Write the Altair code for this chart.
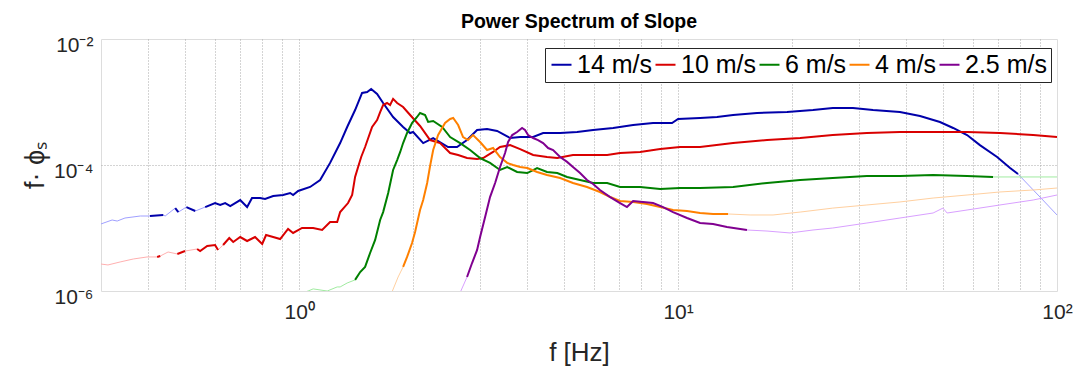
import altair as alt
import pandas as pd

# ---- data ----
series_names = ["14 m/s", "10 m/s", "6 m/s", "4 m/s", "2.5 m/s"]
dark_colors = ["#0000AA", "#D90000", "#008000", "#FF8000", "#800090"]
light_colors = ["#A0A0FF", "#FFB0B0", "#A0EBA0", "#FFD0A0", "#D9A0FF"]
chart_title = "Power Spectrum of Slope"

f_14 = [0.300,0.321,0.331,0.347,0.381,0.404,0.438,0.443,0.471,0.480,0.504,0.532,0.565,0.600,0.619,0.638,0.658,0.699,0.729,0.751,0.789,0.813,0.854,0.907,0.947,0.964,0.994,1.069,1.136,1.207,1.283,1.339,1.405,1.466,1.512,1.549,1.606,1.666,1.770,1.881,1.963,1.999,2.125,2.258,2.472,2.61,2.774,2.949,3.133,3.330,3.604,3.83,4.145,4.404,4.884,5.414,5.968,6.74,7.61,8.59,9.64,10.0,11.43,12.67,13.97,16.16,19.39,22.7,25.6,28.95,32.7,38.5,43.5,49.1,53.2,57.9,62.6,69.5,75.2,78.9,90.2,100]
v_14 = [1.16e-5,1.34e-5,1.29e-5,1.44e-5,1.55e-5,1.55e-5,1.61e-5,1.55e-5,2.07e-5,1.79e-5,2.15e-5,1.86e-5,2.15e-5,2.49e-5,2.32e-5,2.49e-5,2.23e-5,2.78e-5,2.15e-5,2.99e-5,2.99e-5,2.88e-5,3.22e-5,3.34e-5,3.59e-5,3.34e-5,3.87e-5,4.48e-5,5.78e-5,1.08e-4,2.23e-4,4.01e-4,7.46e-4,1.39e-3,1.44e-3,1.61e-3,1.34e-3,9.64e-4,5.78e-4,4.01e-4,3.22e-4,3.34e-4,2.23e-4,2.68e-4,1.93e-4,1.93e-4,2.49e-4,3.59e-4,3.73e-4,3.47e-4,2.68e-4,2.78e-4,2.78e-4,3.22e-4,3.22e-4,3.34e-4,3.59e-4,3.87e-4,4.31e-4,4.64e-4,4.64e-4,5.37e-4,5.57e-4,5.78e-4,6.22e-4,6.69e-4,6.93e-4,7.46e-4,8.03e-4,8.03e-4,7.46e-4,6.93e-4,6.0e-4,4.82e-4,3.87e-4,2.99e-4,2.07e-4,1.34e-4,8.95e-5,7.19e-5,3.10e-5,1.61e-5]
thin_14 = [(0.29, 0.40), (0.44, 0.47), (0.48, 0.50), (0.535, 0.57), (79, 101)]

f_10 = [0.300,0.313,0.337,0.365,0.397,0.422,0.430,0.451,0.477,0.500,0.538,0.548,0.572,0.600,0.611,0.630,0.654,0.670,0.699,0.729,0.765,0.799,0.818,0.854,0.891,0.935,0.964,1.018,1.089,1.150,1.207,1.260,1.283,1.346,1.38,1.405,1.431,1.458,1.493,1.558,1.606,1.636,1.666,1.706,1.738,1.770,1.814,1.881,1.963,2.085,2.216,2.355,2.503,2.628,2.774,2.949,3.059,3.25,3.39,3.604,3.83,4.145,4.51,4.80,5.28,5.86,6.50,7.03,7.94,8.97,10.12,11.43,13.97,17.17,21.0,25.6,31.5,38.5,47.1,57.9,70.7,86.5,100]
v_10 = [2.68e-6,2.59e-6,2.89e-6,3.22e-6,3.47e-6,3.47e-6,3.59e-6,4.16e-6,3.87e-6,4.31e-6,4.64e-6,4.31e-6,5.18e-6,5.37e-6,4.48e-6,5.37e-6,6.93e-6,6.0e-6,7.19e-6,6.22e-6,7.19e-6,5.57e-6,7.74e-6,7.19e-6,6.69e-6,9.64e-6,8.34e-6,1.0e-5,1.0e-5,9.29e-6,1.24e-5,1.24e-5,1.79e-5,2.49e-5,3.34e-5,6.46e-5,9.29e-5,1.34e-4,1.93e-4,4.01e-4,5.18e-4,6.93e-4,8.95e-4,9.64e-4,8.95e-4,1.12e-3,9.64e-4,8.34e-4,6.22e-4,4.16e-4,2.49e-4,2.23e-4,1.55e-4,1.44e-4,1.29e-4,1.24e-4,1.29e-4,1.61e-4,1.93e-4,2.07e-4,1.79e-4,1.44e-4,1.34e-4,1.29e-4,1.44e-4,1.44e-4,1.44e-4,1.55e-4,1.61e-4,1.79e-4,1.93e-4,1.93e-4,2.23e-4,2.49e-4,2.68e-4,2.99e-4,3.22e-4,3.34e-4,3.34e-4,3.34e-4,3.22e-4,2.99e-4,2.78e-4]
thin_10 = [(0.29, 0.42), (0.43, 0.47), (0.49, 0.54), (0.61, 0.64)]

f_6 = [1.0,1.056,1.089,1.186,1.260,1.283,1.339,1.405,1.449,1.493,1.539,1.587,1.636,1.666,1.718,1.770,1.814,1.848,1.881,1.927,1.986,2.047,2.085,2.15,2.19,2.258,2.385,2.503,2.66,2.826,3.003,3.19,3.39,3.54,3.76,4.0,4.246,4.51,4.80,5.095,5.513,5.968,6.50,7.03,7.94,8.97,10.12,11.43,13.97,17.17,21.0,25.6,31.5,38.5,47.1,57.9,67.8,79.9,100]
v_6 = [9.0e-7,1.0e-6,1.08e-6,1.0e-6,1.16e-6,1.16e-6,1.34e-6,1.50e-6,2.0e-6,2.41e-6,4.01e-6,6.46e-6,1.34e-5,1.79e-5,3.59e-5,8.34e-5,1.20e-4,1.61e-4,2.23e-4,3.22e-4,4.64e-4,5.78e-4,6.69e-4,6.22e-4,4.82e-4,4.99e-4,4.01e-4,2.78e-4,2.23e-4,1.73e-4,1.29e-4,1.08e-4,8.34e-5,9.29e-5,7.74e-5,7.46e-5,8.95e-5,7.74e-5,7.46e-5,6.46e-5,5.78e-5,5.18e-5,5.18e-5,4.48e-5,4.48e-5,4.16e-5,4.31e-5,4.31e-5,4.48e-5,5.18e-5,5.78e-5,6.22e-5,6.69e-5,6.69e-5,6.93e-5,6.69e-5,6.46e-5,6.46e-5,6.46e-5]
thin_6 = [(0.9, 1.40), (68, 101)]

f_4 = [1.75,1.825,1.881,1.927,1.986,2.023,2.085,2.125,2.177,2.216,2.258,2.327,2.427,2.503,2.55,2.628,2.708,2.79,2.877,3.003,3.133,3.25,3.39,3.54,3.67,3.83,4.0,4.246,4.51,4.884,5.28,5.75,6.22,6.62,7.03,7.61,8.28,8.97,9.70,10.56,11.43,12.37,13.55,15.49,17.81,21.0,25.6,31.5,38.5,47.1,57.9,70.7,86.5,100]
v_4 = [9.0e-7,1.67e-6,2.41e-6,3.47e-6,5.78e-6,8.65e-6,1.93e-5,2.78e-5,5.18e-5,9.64e-5,1.73e-4,2.99e-4,4.64e-4,5.37e-4,5.57e-4,4.31e-4,2.78e-4,2.49e-4,2.99e-4,2.32e-4,1.73e-4,1.86e-4,1.34e-4,1.08e-4,1.0e-4,9.29e-5,8.95e-5,7.74e-5,6.93e-5,6.22e-5,5.18e-5,4.48e-5,3.73e-5,3.10e-5,2.68e-5,2.59e-5,2.41e-5,2.15e-5,1.93e-5,1.86e-5,1.73e-5,1.67e-5,1.67e-5,1.61e-5,1.61e-5,1.79e-5,2.07e-5,2.32e-5,2.59e-5,2.99e-5,3.34e-5,3.73e-5,4.01e-5,4.31e-5]
thin_4 = [(1.7, 1.88), (13.6, 101)]

f_25 = [2.64,2.774,2.86,2.949,3.003,3.096,3.19,3.29,3.39,3.495,3.56,3.65,3.76,3.875,3.945,4.02,4.145,4.27,4.404,4.54,4.68,4.884,5.095,5.28,5.513,5.75,5.968,6.22,6.62,7.03,7.33,7.61,8.08,8.59,9.13,9.70,10.56,11.43,12.37,13.46,15.2,17.17,19.75,22.7,25.6,31.5,38.5,47.1,50.0,51.3,57.9,70.7,86.5,100]
v_25 = [8.5e-7,1.67e-6,2.78e-6,4.48e-6,7.19e-6,1.50e-5,3.10e-5,5.18e-5,9.29e-5,1.55e-4,2.32e-4,2.99e-4,3.34e-4,3.87e-4,3.59e-4,2.99e-4,2.68e-4,2.49e-4,2.23e-4,1.86e-4,1.73e-4,1.34e-4,1.12e-4,9.29e-5,7.46e-5,5.78e-5,4.99e-5,4.01e-5,3.10e-5,2.49e-5,2.15e-5,2.68e-5,2.59e-5,2.49e-5,2.15e-5,1.79e-5,1.44e-5,1.20e-5,1.16e-5,1.04e-5,9.29e-6,8.95e-6,8.34e-6,9.29e-6,1.0e-5,1.20e-5,1.44e-5,1.73e-5,2.07e-5,1.73e-5,1.93e-5,2.32e-5,2.78e-5,3.34e-5]
thin_25 = [(2.5, 2.77), (15.3, 101)]

x_tick_values = [0.3,0.4,0.5,0.6,0.7,0.8,0.9,1,2,3,4,5,6,7,8,9,10,20,30,40,50,60,70,80,90,100]
y_tick_values = [1e-6, 1e-4, 1e-2]

# ---- build table: split each series into thick / faded runs ----
rows = []
all_series = [
    (series_names[0], f_14, v_14, thin_14, light_colors[0]),
    (series_names[1], f_10, v_10, thin_10, light_colors[1]),
    (series_names[2], f_6, v_6, thin_6, light_colors[2]),
    (series_names[3], f_4, v_4, thin_4, light_colors[3]),
    (series_names[4], f_25, v_25, thin_25, light_colors[4]),
]
for si, (name, fs, vs, thin, light) in enumerate(all_series):
    n = min(len(fs), len(vs))
    styles = []
    for i in range(1, n):
        mid = (fs[i - 1] * fs[i]) ** 0.5
        styles.append("thin" if any(a <= mid <= b for a, b in thin) else "thick")
    runs = []
    cur_style = styles[0]
    cur = [0]
    for i in range(1, n):
        s = styles[i - 1]
        if s != cur_style:
            runs.append((cur_style, cur))
            cur = [i - 1]
            cur_style = s
        cur.append(i)
    runs.append((cur_style, cur))
    for k, (s, idx) in enumerate(runs):
        for order, j in enumerate(idx):
            rows.append(dict(series=name, sidx=si, f=fs[j], v=vs[j], style=s,
                             seg=f"{si}-{k}", order=order, light=light))

df = pd.DataFrame(rows)

FONT = "Liberation Sans"
GRID = "#a8a8a8"

x_grid_opacity = {"condition": {"test": "datum.value <= 0.3 || datum.value >= 100", "value": 0}, "value": 1}
y_grid_opacity = {"condition": {"test": "datum.value <= 1e-6 || datum.value >= 1e-2", "value": 0}, "value": 1}

x_enc = alt.X("f:Q",
    scale=alt.Scale(type="log", domain=[0.3, 100], nice=False),
    axis=alt.Axis(values=x_tick_values,
                  labelExpr="datum.value == 1 ? '10⁰' : datum.value == 10 ? '10¹' : datum.value == 100 ? '10²' : ''",
                  grid=True, gridDash=[1, 2], gridColor=GRID, gridWidth=1,
                  gridOpacity=x_grid_opacity,
                  tickSize=0, domain=False, labelFlush=False, labelOverlap=False,
                  labelFontSize=21, labelFont=FONT, labelColor="#262626", labelPadding=10,
                  title="f [Hz]", titleFontSize=26, titleFont=FONT, titleFontWeight="normal",
                  titleColor="#262626", titleY=61, titleBaseline="middle"))
y_enc = alt.Y("v:Q",
    scale=alt.Scale(type="log", domain=[1e-6, 1e-2], nice=False),
    axis=alt.Axis(values=y_tick_values,
                  labelExpr="datum.value < 1e-5 ? '10⁻⁶' : datum.value < 1e-3 ? '10⁻⁴' : '10⁻²'",
                  grid=True, gridDash=[1, 2], gridColor=GRID, gridWidth=1,
                  gridOpacity=y_grid_opacity,
                  tickSize=0, domain=False, labelFlush=False, labelOverlap=False,
                  labelFontSize=21, labelFont=FONT, labelColor="#262626", labelPadding=8,
                  labelOffset=6,
                  title="f· ϕₛ", titleFontSize=27, titleFont=FONT, titleFontWeight="normal",
                  titleColor="#262626", titleX=-66, titleY=126, titleAngle=270,
                  titleBaseline="middle", titleAlign="center"))

base = alt.Chart(df)

thin_layer = base.transform_filter(alt.datum.style == "thin").mark_line(
    strokeWidth=1, clip=True
).encode(
    x=x_enc, y=y_enc,
    color=alt.Color("light:N", scale=None),
    detail="seg:N",
    order="order:Q",
)

thick_layer = base.transform_filter(alt.datum.style == "thick").mark_line(
    strokeWidth=2, clip=True
).encode(
    x=x_enc, y=y_enc,
    color=alt.Color("series:N",
                    scale=alt.Scale(domain=series_names, range=dark_colors),
                    legend=alt.Legend(orient="none", legendX=444, legendY=9,
                                      direction="horizontal", columns=5,
                                      symbolType="stroke", symbolSize=400,
                                      symbolStrokeWidth=2,
                                      labelFontSize=25, labelFont=FONT, labelColor="black",
                                      labelOffset=3, columnPadding=-3,
                                      padding=4, strokeColor="#262626",
                                      fillColor="white", title=None)),
    detail="seg:N",
    order="order:Q",
)

title_layer = alt.Chart(alt.Data(values=[{"t": chart_title}])).mark_text(
    font=FONT, fontSize=19.5, fontWeight="bold", color="black",
    align="center", baseline="alphabetic"
).encode(
    x=alt.value(478), y=alt.value(-11), text="t:N"
)

chart = alt.layer(thin_layer, thick_layer, title_layer).properties(
    width=956, height=252,
    autosize=alt.AutoSizeParams(type="none"),
    padding={"left": 101, "top": 39, "right": 28, "bottom": 83},
).configure_view(stroke="#404040", strokeWidth=1).configure(background="white")

chart.save("out.html", embed_options={"renderer": "svg", "actions": False})
